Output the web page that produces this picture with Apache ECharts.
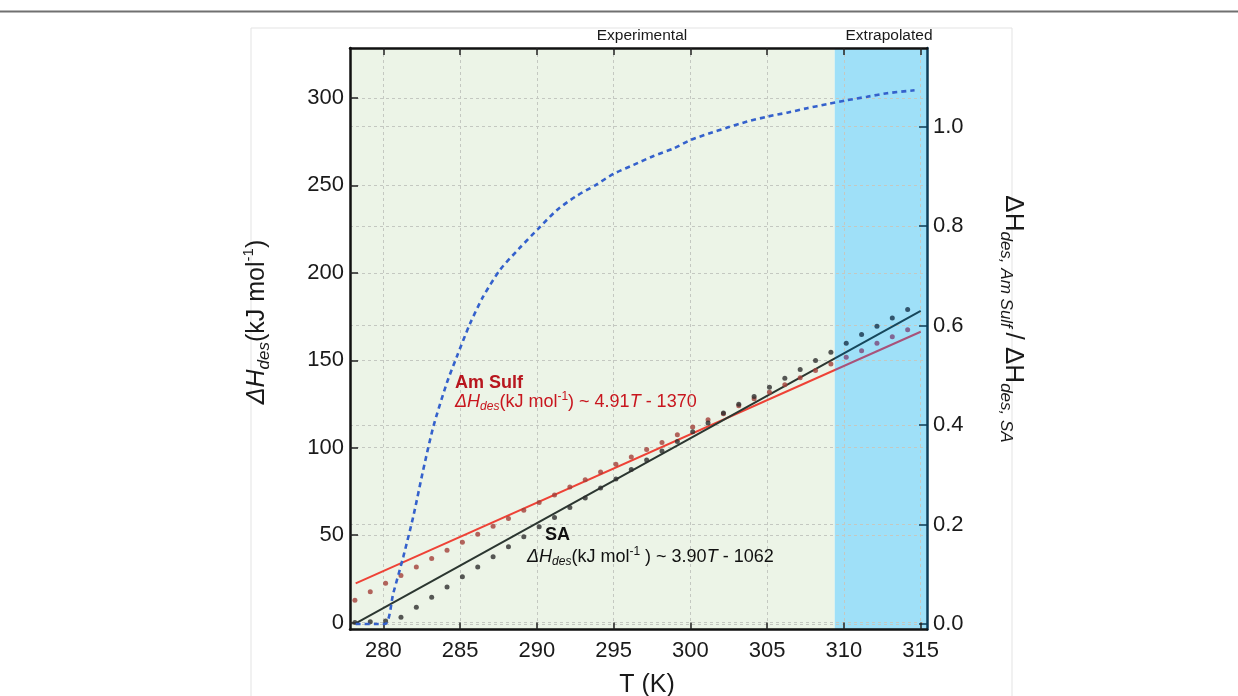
<!DOCTYPE html>
<html>
<head>
<meta charset="utf-8">
<title>Desorption enthalpy</title>
<script src="https://cdn.jsdelivr.net/npm/echarts@6/dist/echarts.min.js"></script>
<style>
  html, body { margin: 0; padding: 0; background: #fff; }
  #main { width: 1238px; height: 696px; }
</style>
</head>
<body>
<div id="main"></div>
<script>
// measurement temperatures (K)
var temps = [278.15, 279.15, 280.15, 281.15, 282.15, 283.15, 284.15, 285.15, 286.15, 287.15,
  288.15, 289.15, 290.15, 291.15, 292.15, 293.15, 294.15, 295.15, 296.15, 297.15,
  298.15, 299.15, 300.15, 301.15, 302.15, 303.15, 304.15, 305.15, 306.15, 307.15,
  308.15, 309.15, 310.15, 311.15, 312.15, 313.15, 314.15];
// ΔH_des points (kJ/mol)
var amSulf = [12.8, 17.6, 22.4, 26.9, 31.8, 36.6, 41.4, 45.9, 50.5, 55.1,
  59.5, 64.2, 68.6, 72.9, 77.5, 81.7, 86.1, 90.5, 94.6, 98.9,
  103.0, 107.4, 111.8, 116.0, 119.4, 124.0, 128.0, 131.7, 136.0, 140.0,
  144.1, 147.9, 151.7, 155.5, 159.7, 163.5, 167.4];
var sa = [0, 0.5, 0.8, 3.0, 8.7, 14.4, 20.3, 26.1, 31.8, 37.6,
  43.3, 49.0, 54.7, 60.0, 65.8, 71.2, 76.9, 82.1, 87.5, 93.0,
  98.1, 103.5, 109.1, 114.1, 119.8, 124.8, 129.3, 134.6, 139.7, 144.7,
  149.8, 154.6, 159.7, 164.7, 169.4, 174.2, 179.1];
// fitted lines
var amSulfFit = [[278.2, 22.4], [315.0, 166.3]];
var saFit = [[278.2, -0.5], [315.0, 178.3]];
// ratio curve (right axis)
var ratioT = [278.2, 280.1, 280.65, 281.3, 281.95, 282.6, 283.26, 284.13, 284.78, 285.65,
  286.5, 287.6, 288.85, 290.1, 291.3, 292.5, 293.8, 295.0, 296.3, 297.6,
  298.9, 300.0, 301.2, 302.4, 303.7, 305.0, 306.3, 307.6, 308.9, 310.2,
  311.5, 312.8, 314.6];
var ratioV = [0, 0, 0.062, 0.135, 0.216, 0.31, 0.397, 0.484, 0.537, 0.604,
  0.658, 0.712, 0.755, 0.795, 0.832, 0.859, 0.882, 0.905, 0.923, 0.941,
  0.956, 0.973, 0.986, 0.998, 1.01, 1.02, 1.028, 1.037, 1.045, 1.053,
  1.06, 1.067, 1.073];

var xTicks = [280, 285, 290, 295, 300, 305, 310, 315];
var leftTicks = [0, 50, 100, 150, 200, 250, 300];
var rightTicks = [0, 0.2, 0.4, 0.6, 0.8, 1.0];
var xMin = 277.83, xMax = 315.41;
var extrapStart = 309.4;

var FONT = '"Liberation Sans", Arial, Helvetica, sans-serif';
var GRID = { left: 350, right: 311, top: 48, bottom: 66.5 };

function pairs(xs, ys) {
  return xs.map(function (x, i) { return [x, ys[i]]; });
}

// colour that switches where the extrapolated region starts
function splitColor(c1, c2) {
  var f = (extrapStart - xMin) / (xMax - xMin);
  return {
    type: 'linear', global: true,
    x: GRID.left, y: 0, x2: 1238 - GRID.right, y2: 0,
    colorStops: [
      { offset: 0, color: c1 }, { offset: f, color: c1 },
      { offset: f, color: c2 }, { offset: 1, color: c2 }
    ]
  };
}

var chart = echarts.init(document.getElementById('main'));

var eqRich = function (color) {
  return {
    i: { fontSize: 18, fontStyle: 'italic', lineHeight: 22, fontFamily: FONT, fill: color },
    n: { fontSize: 18, lineHeight: 22, fontFamily: FONT, fill: color },
    s: { fontSize: 12, fontStyle: 'italic', lineHeight: 9, verticalAlign: 'bottom', fontFamily: FONT, fill: color },
    p: { fontSize: 12, lineHeight: 9, verticalAlign: 'top', fontFamily: FONT, fill: color }
  };
};

var gridLine = { show: true, lineStyle: { color: '#c4c8c1', type: [3, 3], width: 1 } };

var option = {
  animation: false,
  backgroundColor: '#fff',
  grid: GRID,
  xAxis: [{
    type: 'value', min: xMin, max: xMax, position: 'bottom', z: 2,
    axisLine: { show: true, onZero: false, lineStyle: { color: '#111', width: 2.5 } },
    axisTick: { show: true, inside: true, length: 7, customValues: xTicks, lineStyle: { color: '#222', width: 1.5 } },
    axisLabel: { customValues: xTicks, margin: 10, fontSize: 22, color: '#1a1a1a', fontFamily: FONT },
    splitLine: gridLine
  }, {
    type: 'value', min: xMin, max: xMax, position: 'top', z: 2,
    axisLine: { show: true, onZero: false, lineStyle: { color: '#111', width: 2.5 } },
    axisTick: { show: true, inside: true, length: 7, customValues: xTicks, lineStyle: { color: '#222', width: 1.5 } },
    axisLabel: { show: false },
    splitLine: { show: false }
  }],
  yAxis: [{
    type: 'value', min: -4, max: 328.6, position: 'left', z: 2,
    axisLine: { show: true, onZero: false, lineStyle: { color: '#111', width: 2.5 } },
    axisTick: { show: true, inside: true, length: 8, customValues: leftTicks, lineStyle: { color: '#222', width: 1.5 } },
    axisLabel: { customValues: leftTicks, margin: 6, fontSize: 22, color: '#1a1a1a', fontFamily: FONT },
    splitLine: gridLine
  }, {
    type: 'value', min: -0.011, max: 1.158, position: 'right', z: 2,
    axisLine: { show: true, onZero: false, lineStyle: { color: '#0d3b56', width: 2.5 } },
    axisTick: { show: true, inside: true, length: 8, customValues: rightTicks, lineStyle: { color: '#0d3b56', width: 1.5 } },
    axisLabel: {
      customValues: rightTicks, margin: 6, fontSize: 22, color: '#1a1a1a', fontFamily: FONT,
      formatter: function (v) { return v.toFixed(1); }
    },
    splitLine: gridLine
  }],
  visualMap: [
    { type: 'piecewise', show: false, seriesIndex: 3, dimension: 0,
      pieces: [{ lt: extrapStart, color: '#a23f38' }, { gte: extrapStart, color: '#7a4679' }] },
    { type: 'piecewise', show: false, seriesIndex: 4, dimension: 0,
      pieces: [{ lt: extrapStart, color: '#2e2e2e' }, { gte: extrapStart, color: '#15324a' }] }
  ],
  series: [
    {
      // background regions
      type: 'line', data: [], z: 0, silent: true,
      markArea: {
        silent: true, z: 1,
        data: [
          [{ xAxis: xMin, itemStyle: { color: '#ecf4e7' } }, { xAxis: extrapStart }],
          [{ xAxis: extrapStart, itemStyle: { color: '#9fe0f8' } }, { xAxis: xMax }]
        ]
      }
    },
    {
      name: 'Am Sulf fit', type: 'line', data: amSulfFit, showSymbol: false, z: 3,
      lineStyle: { width: 2, color: splitColor('#ee4236', '#a8527a') }
    },
    {
      name: 'SA fit', type: 'line', data: saFit, showSymbol: false, z: 3,
      lineStyle: { width: 2, color: splitColor('#2b3630', '#16475c') }
    },
    {
      name: 'Am Sulf', type: 'scatter', data: pairs(temps, amSulf), symbolSize: 5, z: 4
    },
    {
      name: 'SA', type: 'scatter', data: pairs(temps, sa), symbolSize: 5, z: 4
    },
    {
      name: 'ratio', type: 'line', yAxisIndex: 1, data: pairs(ratioT, ratioV),
      smooth: 0.25, showSymbol: false, z: 5,
      lineStyle: { color: '#3461cc', width: 2.6, type: [5, 4] }
    }
  ],
  graphic: [
    { type: 'line', z: -10, shape: { x1: 0, y1: 11.5, x2: 1238, y2: 11.5 },
      style: { stroke: '#707070', lineWidth: 2 } },
    { type: 'rect', z: -10, shape: { x: 251, y: 28, width: 761, height: 700 },
      style: { fill: '#fff', stroke: '#e3e3e3', lineWidth: 1 } },
    { type: 'text', x: 642, y: 36, style: {
      text: 'Experimental', fontSize: 15.5, fontFamily: FONT, fill: '#1a1a1a', align: 'center', verticalAlign: 'middle' } },
    { type: 'text', x: 889, y: 36, style: {
      text: 'Extrapolated', fontSize: 15.5, fontFamily: FONT, fill: '#1a1a1a', align: 'center', verticalAlign: 'middle' } },
    { type: 'text', x: 647, y: 685, style: {
      text: 'T (K)', fontSize: 25, fontFamily: FONT, fill: '#1a1a1a', align: 'center', verticalAlign: 'middle' } },
    { type: 'text', x: 257, y: 322, rotation: Math.PI / 2, style: {
      text: '{i|ΔH}{s|des}{n|(kJ mol}{p|-1}{n|)}', align: 'center', verticalAlign: 'middle',
      rich: {
        i: { fontSize: 25, fontStyle: 'italic', lineHeight: 32, fontFamily: FONT, fill: '#1a1a1a' },
        n: { fontSize: 25, lineHeight: 32, fontFamily: FONT, fill: '#1a1a1a' },
        s: { fontSize: 17, fontStyle: 'italic', lineHeight: 14, verticalAlign: 'bottom', fontFamily: FONT, fill: '#1a1a1a' },
        p: { fontSize: 15, lineHeight: 12, verticalAlign: 'top', fontFamily: FONT, fill: '#1a1a1a' }
      } } },
    { type: 'text', x: 1013, y: 319, rotation: -Math.PI / 2, style: {
      text: '{n|ΔH}{s|des, Am Sulf }{n|/ ΔH}{s|des, SA}', align: 'center', verticalAlign: 'middle',
      rich: {
        n: { fontSize: 26, lineHeight: 32, fontFamily: FONT, fill: '#1a1a1a' },
        s: { fontSize: 17, fontStyle: 'italic', lineHeight: 14, verticalAlign: 'bottom', fontFamily: FONT, fill: '#1a1a1a' }
      } } },
    { type: 'text', z: 10, x: 455, y: 383, style: {
      text: 'Am Sulf', fontSize: 18, fontWeight: 'bold', fontFamily: FONT, fill: '#b8161e', align: 'left', verticalAlign: 'middle' } },
    { type: 'text', z: 10, x: 455, y: 402, style: {
      text: '{i|ΔH}{s|des}{n|(kJ mol}{p|-1}{n|) ~ 4.91}{i|T}{n| - 1370}', align: 'left', verticalAlign: 'middle',
      rich: eqRich('#c8161e') } },
    { type: 'text', z: 10, x: 545, y: 535, style: {
      text: 'SA', fontSize: 18, fontWeight: 'bold', fontFamily: FONT, fill: '#111', align: 'left', verticalAlign: 'middle' } },
    { type: 'text', z: 10, x: 527, y: 557, style: {
      text: '{i|ΔH}{s|des}{n|(kJ mol}{p|-1}{n| ) ~ 3.90}{i|T}{n| - 1062}', align: 'left', verticalAlign: 'middle',
      rich: eqRich('#111') } }
  ]
};

chart.setOption(option);
</script>
</body>
</html>
